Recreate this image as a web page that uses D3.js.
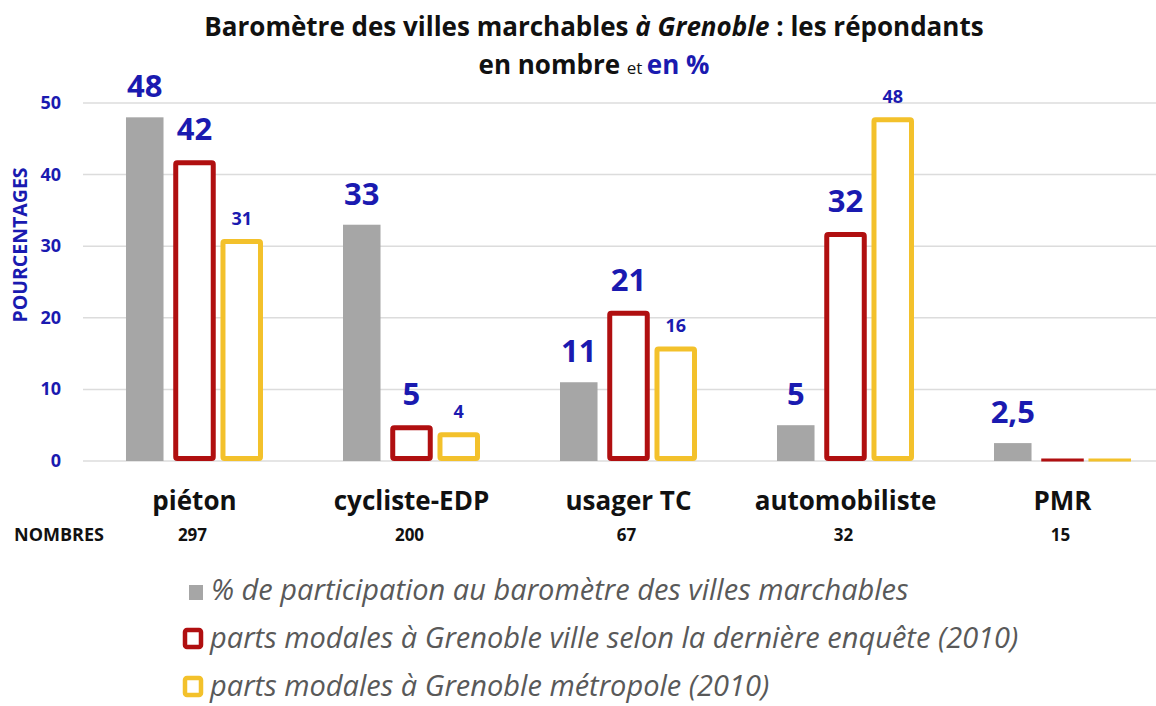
<!DOCTYPE html>
<html>
<head>
<meta charset="utf-8">
<script src="https://cdn.jsdelivr.net/npm/d3@7"></script>
<style>
  body { margin: 0; background: #fff; }
  svg { font-family: "Open Sans", Lato, sans-serif; }
</style>
</head>
<body>
<script>
// categories and series (percentages)
const categories = ["piéton", "cycliste-EDP", "usager TC", "automobiliste", "PMR"];
const nombres = [297, 200, 67, 32, 15];
const participation = [48, 33, 11, 5, 2.5];
const grenobleVille = [42, 5, 21, 32, 0];
const grenobleMetro = [31, 4, 16, 48, 0];
const yTicks = [0, 10, 20, 30, 40, 50];

const seriesNames = ["participation", "ville", "metro"];
const legendLabels = [
  "% de participation au baromètre des villes marchables",
  "parts modales à Grenoble ville selon la dernière enquête (2010)",
  "parts modales à Grenoble métropole (2010)"
];

const BLUE = "#1a1ab0", GRAY = "#a6a6a6", RED = "#b00f10", YELLOW = "#f3c12b";

const W = 1156, H = 706;
const svg = d3.select("body").append("svg")
   .attr("width", W)
   .attr("height", H);

const y = d3.scaleLinear()
   .domain([0, 50])
   .range([461, 103]);

const x = d3.scaleBand()
   .domain(categories)
   .range([86, 1171])
   .paddingInner(0.3687)
   .paddingOuter(0.1843);

const xs = d3.scaleBand()
   .domain(seriesNames)
   .range([0, x.bandwidth()])
   .paddingInner(0.1);

// gridlines
svg.append("g")
   .selectAll("line")
   .data(yTicks)
   .enter()
   .append("line")
   .attr("x1", 83).attr("x2", W)
   .attr("y1", d => y(d)).attr("y2", d => y(d))
   .attr("stroke", "#dcdcdc")
   .attr("stroke-width", 1.5);

// y tick labels
svg.append("g")
   .selectAll("text")
   .data(yTicks)
   .enter()
   .append("text")
   .attr("x", 61)
   .attr("y", d => y(d) + 6)
   .attr("text-anchor", "end")
   .attr("fill", BLUE)
   .attr("font-weight", "bold")
   .attr("font-size", 18)
   .text(d => d);

svg.append("text")
   .attr("transform", "translate(27,245) rotate(-90)")
   .attr("text-anchor", "middle")
   .attr("fill", BLUE)
   .attr("font-weight", "bold")
   .attr("font-size", 19.5)
   .text("POURCENTAGES");

// title
const t1 = svg.append("text")
   .attr("x", 594).attr("y", 36)
   .attr("text-anchor", "middle")
   .attr("font-weight", "bold")
   .attr("font-size", 26)
   .attr("fill", "#111");
t1.append("tspan").text("Baromètre des villes marchables ");
t1.append("tspan").attr("font-style", "italic").text("à Grenoble");
t1.append("tspan").text(" : les répondants");

const t2 = svg.append("text")
   .attr("x", 594).attr("y", 74)
   .attr("text-anchor", "middle")
   .attr("font-weight", "bold")
   .attr("font-size", 26);
t2.append("tspan").attr("fill", "#111").text("en nombre ");
t2.append("tspan").attr("fill", "#111").attr("font-weight", "normal").attr("font-size", 17).text("et ");
t2.append("tspan").attr("fill", BLUE).text("en %");

// bars
const rows = categories.map((c, i) => ({
  cat: c,
  vals: [participation[i], grenobleVille[i], grenobleMetro[i]]
}));

const groups = svg.selectAll(".grp")
   .data(rows)
   .enter()
   .append("g")
   .attr("class", "grp")
   .attr("transform", d => "translate(" + x(d.cat) + ",0)");

const sw = 5;
groups.each(function(d) {
  const g = d3.select(this);
  // gray filled
  g.append("rect")
     .attr("x", xs("participation"))
     .attr("width", xs.bandwidth() - 5)
     .attr("y", y(d.vals[0]))
     .attr("height", y(0) - y(d.vals[0]))
     .attr("fill", GRAY);
  // outlined bars
  [["ville", 1, RED], ["metro", 2, YELLOW]].forEach(([s, k, col]) => {
    const v = d.vals[k];
    if (v > 0) {
      g.append("rect")
         .attr("x", xs(s) + sw / 2)
         .attr("width", xs.bandwidth() - sw)
         .attr("y", y(v) + sw / 2)
         .attr("height", y(0) - y(v) - sw)
         .attr("fill", "#fff")
         .attr("stroke", col)
         .attr("stroke-width", sw)
         .attr("rx", 1.5);
    } else {
      g.append("line")
         .attr("x1", xs(s)).attr("x2", xs(s) + xs.bandwidth())
         .attr("y1", y(0) - 1).attr("y2", y(0) - 1)
         .attr("stroke", col)
         .attr("stroke-width", 3);
    }
  });
  // value labels
  const big = [true, true, false];
  d.vals.forEach((v, k) => {
    if (v <= 0) return;
    g.append("text")
       .attr("x", xs(seriesNames[k]) + (k === 0 ? (xs.bandwidth() - 5) / 2 : xs.bandwidth() / 2))
       .attr("y", y(v) - (big[k] ? 20 : 14))
       .attr("text-anchor", "middle")
       .attr("fill", BLUE)
       .attr("font-weight", "bold")
       .attr("font-size", big[k] ? 31 : 18)
       .text(String(v).replace(".", ","));
  });
});

// category labels
svg.append("g")
   .selectAll("text")
   .data(categories)
   .enter()
   .append("text")
   .attr("x", d => x(d) + x.bandwidth() / 2)
   .attr("y", 510)
   .attr("text-anchor", "middle")
   .attr("font-weight", "bold")
   .attr("font-size", 26)
   .attr("fill", "#111")
   .text(d => d);

// NOMBRES row
svg.append("text")
   .attr("x", 14).attr("y", 541)
   .attr("font-weight", "bold")
   .attr("font-size", 18)
   .attr("fill", "#111")
   .text("NOMBRES");

svg.append("g")
   .selectAll("text")
   .data(nombres)
   .enter()
   .append("text")
   .attr("x", (d, i) => x(categories[i]) + x.bandwidth() / 2 - 2)
   .attr("y", 541)
   .attr("text-anchor", "middle")
   .attr("font-weight", "bold")
   .attr("font-size", 17)
   .attr("fill", "#111")
   .text(d => d);

// legend
const legY = [600, 648, 696];
const leg = svg.append("g");
legendLabels.forEach((lab, i) => {
  if (i === 0) {
    leg.append("rect")
       .attr("x", 189).attr("y", legY[i] - 15)
       .attr("width", 14).attr("height", 15)
       .attr("fill", GRAY);
  } else {
    leg.append("rect")
       .attr("x", 185).attr("y", legY[i] - 18)
       .attr("width", 16).attr("height", 17)
       .attr("fill", "#fff")
       .attr("stroke", i === 1 ? RED : YELLOW)
       .attr("stroke-width", 4.5)
       .attr("rx", 2);
  }
  leg.append("text")
     .attr("x", i === 0 ? 211 : 210)
     .attr("y", legY[i])
     .attr("font-style", "italic")
     .attr("font-size", 29)
     .attr("fill", "#595959")
     .text(lab);
});
</script>
</body>
</html>
